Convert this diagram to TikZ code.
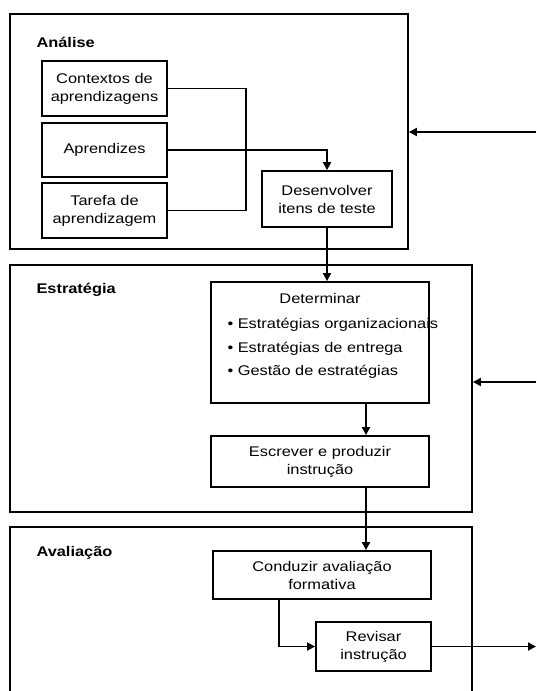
\documentclass[tikz,border=0pt]{standalone}
\usepackage{fontspec}
\setmainfont{Liberation Sans}[FakeStretch=1.17]
\usetikzlibrary{arrows.meta}
\begin{document}
\begin{tikzpicture}[x=1pt,y=-1pt,
  box/.style={draw,line width=1.8pt,align=center,inner sep=2pt,font=\fontsize{14}{18}\selectfont},
  group/.style={draw,line width=1.8pt},
  grouplabel/.style={anchor=west,font=\fontsize{14}{18}\selectfont\bfseries},
  txt/.style={font=\fontsize{14}{18}\selectfont},
  link/.style={line width=1.8pt},
  arr/.style={line width=1.8pt,-{Triangle[length=8pt,width=8pt]}}]
\clip (0,0) rectangle (536,691);
\useasboundingbox (0,0) rectangle (536,691);

\node[group,minimum width=398pt,minimum height=235pt] (ana) at (209,131.5) {};
\node[group,minimum width=462pt,minimum height=247pt] (est) at (241,388.5) {};
\node[group,minimum width=462pt,minimum height=220pt] (ava) at (241,637) {};
\node[grouplabel] at (33,42) {Análise};
\node[grouplabel] at (33,290) {Estratégia};
\node[grouplabel] at (33,553) {Avaliação};

\node[box,minimum width=125pt,minimum height=55pt] (ctx) at (104.5,88.5) {Contextos de\\aprendizagens};
\node[box,minimum width=125pt,minimum height=54pt] (apr) at (104.5,150) {Aprendizes};
\node[box,minimum width=125pt,minimum height=55pt] (tar) at (104.5,210.5) {Tarefa de\\aprendizagem};
\node[box,minimum width=130pt,minimum height=56pt] (des) at (327,199) {Desenvolver\\itens de teste};

\node[box,minimum width=218pt,minimum height=121pt] (det) at (320,342.5) {};
\node[txt] at (320,298) {Determinar};
\node[txt,anchor=west] at (224,325) {• Estratégias organizacionais};
\node[txt,anchor=west] at (224,349) {• Estratégias de entrega};
\node[txt,anchor=west] at (224,372) {• Gestão de estratégias};
\node[box,minimum width=218pt,minimum height=51pt] (esc) at (320,461.5) {Escrever e produzir\\instrução};

\node[box,minimum width=218pt,minimum height=48pt] (con) at (322,575) {Conduzir avaliação\\formativa};
\node[box,minimum width=115pt,minimum height=49pt] (rev) at (373.5,646.5) {Revisar\\instrução};

\coordinate (fbana) at (536,132);
\coordinate (fbest) at (536,382);
\coordinate (out) at (536,646.5);

\draw[link] (ctx.east) -- ++(78,0) |- (tar.east);
\draw[arr] (apr.east) -| (des.north);
\draw[arr] (des.south) -- (des.south |- det.north);
\draw[arr] ([xshift=46pt]det.south) -- ([xshift=46pt]esc.north);
\draw[arr] ([xshift=46pt]esc.south) -- ([xshift=46pt]esc.south |- con.north);
\draw[arr] ([xshift=-43pt]con.south) |- (rev.west);
\draw[arr] (rev.east) -- (out);
\draw[arr] (fbana) -- (fbana -| ana.east);
\draw[arr] (fbest) -- (fbest -| est.east);
\end{tikzpicture}
\end{document}
